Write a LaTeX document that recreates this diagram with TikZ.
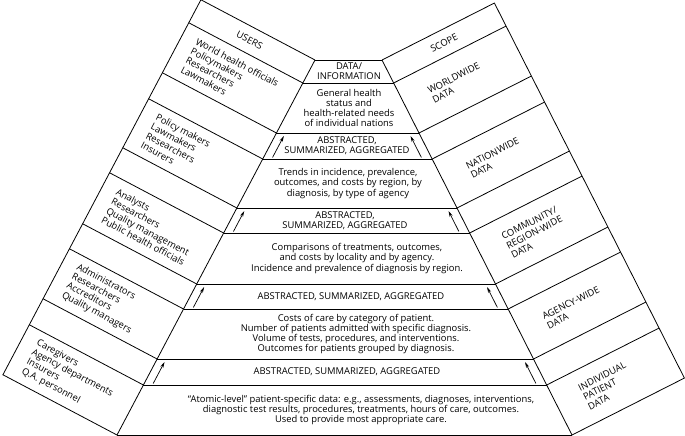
\documentclass[tikz,border=0pt]{standalone}
\usepackage{fontspec}
\setmainfont{Open Sans}
\usetikzlibrary{calc,arrows.meta}
\begin{document}
\begin{tikzpicture}[x=1pt,y=-1pt,line width=0.8pt,line join=miter,
  lbl/.style={font=\fontsize{9.4}{10.3}\selectfont,align=center,inner sep=0pt},
  wingL/.style={font=\fontsize{9.4}{10.6}\selectfont,align=left,inner sep=0pt,rotate=-27.83,anchor=west},
  wingR/.style={font=\fontsize{9.4}{10.6}\selectfont,align=left,inner sep=0pt,rotate=26.87,anchor=west},
  arr/.style={-{Stealth[length=6pt,width=3.2pt]},line width=0.7pt}]
\useasboundingbox (0,0) rectangle (685,436);
% level points on the pyramid sides
\foreach \y in {60,83,133,159,208,233,284,309,359,385,435}{
  \pgfmathsetmacro\xl{315-0.528*(\y-60)}
  \pgfmathsetmacro\xr{382+0.50667*(\y-60)}
  \coordinate (L\y) at (\xl,\y);
  \coordinate (R\y) at (\xr,\y);
}
% mid-level points
\foreach \n/\y in {1/71.5,2/108,3/183.5,4/258.5,5/334,6/410}{
  \pgfmathsetmacro\xl{315-0.528*(\y-60)}
  \pgfmathsetmacro\xr{382+0.50667*(\y-60)}
  \coordinate (ML\n) at (\xl,\y);
  \coordinate (MR\n) at (\xr,\y);
}
\coordinate (wl) at (-114.08,-60.23);
\coordinate (wr) at (112.4,-56.95);
% pyramid
\draw (L60) -- (L435);
\draw (R60) -- (R435);
\foreach \y in {60,83,133,159,208,233,284,309,359,385,435}{
  \draw (L\y) -- (R\y);
}
% left wing
\draw (L60) -- ($(L60)+(wl)$) -- ($(L435)+(wl)$) -- (L435);
\foreach \y in {83,133,159,208,233,284,309,359,385}{
  \draw (L\y) -- ($(L\y)+(wl)$);
}
% right wing
\draw (R60) -- ($(R60)+(wr)$) -- ($(R435)+(wr)$) -- (R435);
\foreach \y in {83,133,159,208,233,284,309,359,385}{
  \draw (R\y) -- ($(R\y)+(wr)$);
}
% arrows
\foreach \t/\b/\i in {133/159/1,208/233/2,284/309/3,359/385/4}{
  \pgfmathsetmacro\ya{\b-1.5}
  \pgfmathsetmacro\yb{\t+3}
  \pgfmathsetmacro\xla{315-0.528*(\ya-60)+9}
  \pgfmathsetmacro\xlb{315-0.528*(\yb-60)+9}
  \pgfmathsetmacro\xra{382+0.50667*(\ya-60)-10}
  \pgfmathsetmacro\xrb{382+0.50667*(\yb-60)-10}
  \coordinate (as\i) at (\xla,\ya);
  \coordinate (ae\i) at (\xlb,\yb);
  \coordinate (bs\i) at (\xra,\ya);
  \coordinate (be\i) at (\xrb,\yb);
  \draw[arr] (as\i) -- (ae\i);
  \draw[arr] (bs\i) -- (be\i);
}
% pyramid texts
\node[lbl] (p1) at (349,71.5) {DATA/\\INFORMATION};
\node[lbl] (p2) at (349,108) {General health\\status and\\health-related needs\\of individual nations};
\node[lbl] (p3) at (347,146) {ABSTRACTED,\\SUMMARIZED, AGGREGATED};
\node[lbl] (p4) at (348,183.5) {Trends in incidence, prevalence,\\outcomes, and costs by region, by\\diagnosis, by type of agency};
\node[lbl] (p5) at (345,220.5) {ABSTRACTED,\\SUMMARIZED, AGGREGATED};
\node[lbl] (p6) at (357,258.5) {Comparisons of treatments, outcomes,\\and costs by locality and by agency.\\Incidence and prevalence of diagnosis by region.};
\node[lbl] (p7) at (351,296.5) {ABSTRACTED, SUMMARIZED, AGGREGATED};
\node[lbl] (p8) at (356,334) {Costs of care by category of patient.\\Number of patients admitted with specific diagnosis.\\Volume of tests, procedures, and interventions.\\Outcomes for patients grouped by diagnosis.};
\node[lbl] (p9) at (347,372) {ABSTRACTED, SUMMARIZED, AGGREGATED};
\node[lbl] (p10) at (361,410) {“Atomic-level” patient-specific data: e.g., assessments, diagnoses, interventions,\\diagnostic test results, procedures, treatments, hours of care, outcomes.\\Used to provide most appropriate care.};
% left wing texts
\node[lbl,rotate=-27.83] (u1) at ($(ML1)+0.52*(wl)$) {USERS};
\node[wingL] (u2) at ($(ML2)+0.884*(wl)$) {World health officials\\Policymakers\\Researchers\\Lawmakers};
\node[wingL] (u3) at ($(ML3)+0.884*(wl)$) {Policy makers\\Lawmakers\\Researchers\\Insurers};
\node[wingL] (u4) at ($(ML4)+0.884*(wl)$) {Analysts\\Researchers\\Quality management\\Public health officials};
\node[wingL] (u5) at ($(ML5)+0.884*(wl)$) {Administrators\\Researchers\\Accreditors\\Quality managers};
\node[wingL] (u6) at ($(ML6)+0.884*(wl)$) {Caregivers\\Agency departments\\Insurers\\Q.A. personnel};
% right wing texts
\node[lbl,rotate=26.87] (s1) at ($(MR1)+0.5*(wr)$) {SCOPE};
\node[wingR] (s2) at ($(MR2)+0.214*(wr)$) {WORLDWIDE\\DATA};
\node[wingR] (s3) at ($(MR3)+0.214*(wr)$) {NATIONWIDE\\DATA};
\node[wingR] (s4) at ($(MR4)+0.214*(wr)$) {COMMUNITY/\\REGION-WIDE\\DATA};
\node[wingR] (s5) at ($(MR5)+0.214*(wr)$) {AGENCY-WIDE\\DATA};
\node[wingR] (s6) at ($(MR6)+0.214*(wr)$) {INDIVIDUAL\\PATIENT\\DATA};
\end{tikzpicture}
\end{document}
